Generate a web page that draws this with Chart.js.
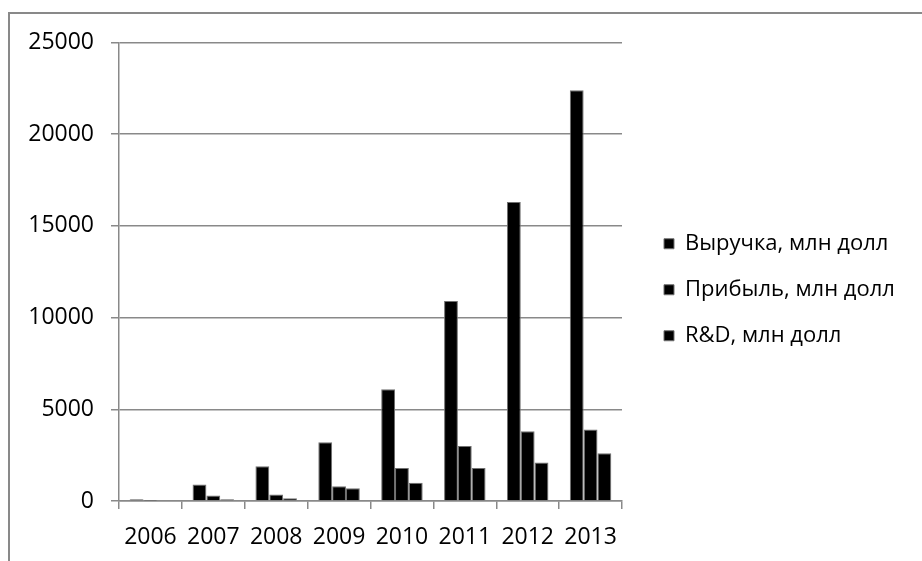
<!DOCTYPE html>
<html>
<head>
<meta charset="utf-8">
<title>Выручка, прибыль и R&amp;D</title>
<script src="https://cdn.jsdelivr.net/npm/chart.js@4.4.0/dist/chart.umd.min.js"></script>
<style>
  html, body { margin: 0; padding: 0; background: #fff; overflow: hidden; }
  #wrap { position: relative; width: 922px; height: 561px; }
  #frame {
    position: absolute; left: 8px; top: 12px; width: 1000px; height: 1000px;
    border-top: 2px solid #898989; border-left: 2px solid #898989; box-sizing: border-box;
  }
  #myChart { position: absolute; left: 0; top: 0; }
</style>
</head>
<body>
<div id="wrap">
  <div id="frame"></div>
  <canvas id="myChart" width="922" height="561"></canvas>
</div>
<script>
const years = ['2006', '2007', '2008', '2009', '2010', '2011', '2012', '2013'];
const revenue = [100, 900, 1900, 3200, 6100, 10900, 16300, 22400];
const profit = [20, 300, 350, 800, 1800, 3000, 3800, 3900];
const rnd = [0, 100, 150, 700, 1000, 1800, 2100, 2600];
const seriesNames = ['Выручка, млн долл', 'Прибыль, млн долл', 'R&D, млн долл'];
const yTicks = [0, 5000, 10000, 15000, 20000, 25000];

const gridColor = '#898989';
const tickFont = { family: "'Open Sans', sans-serif", size: 23 };
const legendFont = { family: "'Open Sans', sans-serif", size: 22 };

// the legend sits a bit further right of the plot than Chart.js puts it,
// and its box is widened so the long labels are not clipped
const legendShift = {
    id: 'legendShift',
    afterLayout(chart) {
        const lg = chart.legend;
        lg.left += 18;
        lg.right += 18 + 60;
        lg.top -= 6;
        lg.bottom -= 6;
    }
};

function makeSet(label, values) {
    return {
        label: label,
        data: values,
        backgroundColor: '#000000',
        borderColor: '#707070',
        borderWidth: 1,
        categoryPercentage: 0.66,
        barPercentage: 1.0
    };
}

window.onload = () => {
    const ctx = document.getElementById('myChart').getContext('2d');
    new Chart(ctx, {
        type: 'bar',
        data: {
            labels: years,
            datasets: [
                makeSet(seriesNames[0], revenue),
                makeSet(seriesNames[1], profit),
                makeSet(seriesNames[2], rnd)
            ]
        },
        options: {
            responsive: false,
            animation: false,
            devicePixelRatio: 1,
            layout: { padding: { top: 42.5, right: 50, bottom: 12, left: 0 } },
            plugins: {
                tooltip: { enabled: false },
                legend: {
                    position: 'right',
                    align: 'center',
                    maxWidth: 250,
                    labels: {
                        color: '#000',
                        font: legendFont,
                        boxWidth: 10,
                        boxHeight: 10,
                        padding: 24
                    }
                }
            },
            scales: {
                x: {
                    offset: true,
                    afterFit: (scale) => { scale.height = 48; },
                    grid: {
                        offset: true,
                        drawOnChartArea: false,
                        drawTicks: true,
                        tickLength: 8,
                        color: gridColor,
                        lineWidth: 1.5
                    },
                    border: { color: gridColor, width: 1.5 },
                    ticks: {
                        color: '#000',
                        font: tickFont,
                        padding: 15,
                        maxRotation: 0,
                        autoSkip: false
                    }
                },
                y: {
                    min: 0,
                    max: 25000,
                    afterFit: (scale) => { scale.width = 119; },
                    afterBuildTicks: (scale) => { scale.ticks = yTicks.map(v => ({ value: v })); },
                    grid: {
                        color: gridColor,
                        lineWidth: 1.5,
                        tickLength: 8
                    },
                    border: { color: gridColor, width: 1.5 },
                    ticks: {
                        color: '#000',
                        font: tickFont,
                        padding: 17,
                        callback: (v) => String(v)
                    }
                }
            }
        },
        plugins: [legendShift]
    });
};
</script>
</body>
</html>
